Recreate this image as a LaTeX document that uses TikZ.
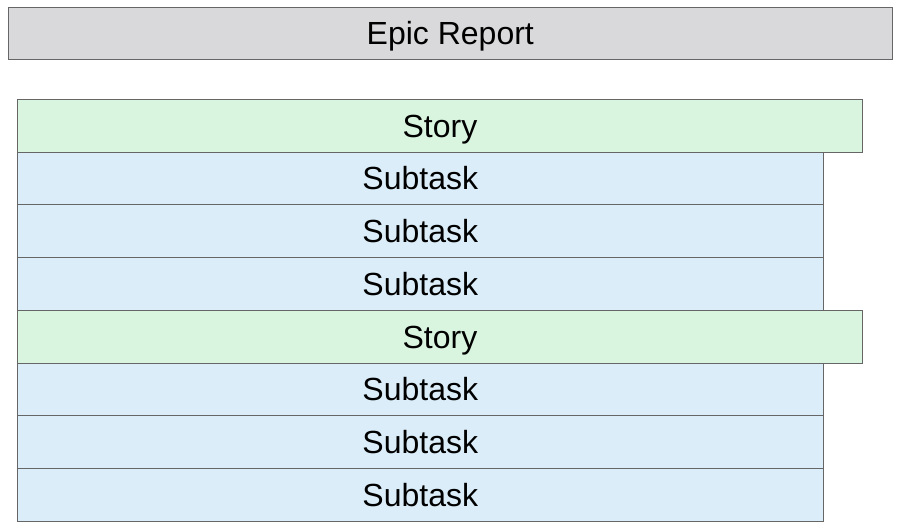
\documentclass[tikz,border=0pt]{standalone}
\usepackage{fontspec}
\setmainfont{Liberation Sans}
\usetikzlibrary{positioning}
\definecolor{linegray}{HTML}{666666}
\definecolor{epicgray}{HTML}{D9D9DC}
\definecolor{storygreen}{HTML}{D9F5DF}
\definecolor{taskblue}{HTML}{DAEDF8}
\begin{document}
\begin{tikzpicture}[
	every node/.style={draw=linegray,
    					line width=1pt,
                        font=\fontsize{32}{38}\selectfont,
                        inner sep=0pt,
                        outer sep=0pt,
                        text height=23pt,
                        text depth=0pt
                        },
	epic/.style={fill=epicgray, minimum width=884pt, minimum height=52pt},
	story/.style={fill=storygreen, minimum width=845.3pt, minimum height=52.75pt},
	subtask/.style={fill=taskblue, minimum width=806pt, minimum height=52.75pt}
]
	\useasboundingbox (0,0) rectangle (900pt,-531pt);
	\node (epic) [epic, anchor=north west] at (8.3pt,-7.3pt) {Epic Report};
	\node (story1) [story, anchor=north west] at (17.3pt,-99.3pt) {Story};
	\node (task1) [subtask, below right=0pt and 0pt of story1.south west] {Subtask};
	\node (task2) [subtask, below right=0pt and 0pt of task1.south west] {Subtask};
	\node (task3) [subtask, below right=0pt and 0pt of task2.south west] {Subtask};
	\node (story2) [story, below right=0pt and 0pt of task3.south west] {Story};
	\node (task4) [subtask, below right=0pt and 0pt of story2.south west] {Subtask};
	\node (task5) [subtask, below right=0pt and 0pt of task4.south west] {Subtask};
	\node (task6) [subtask, below right=0pt and 0pt of task5.south west] {Subtask};
\end{tikzpicture}
\end{document}
